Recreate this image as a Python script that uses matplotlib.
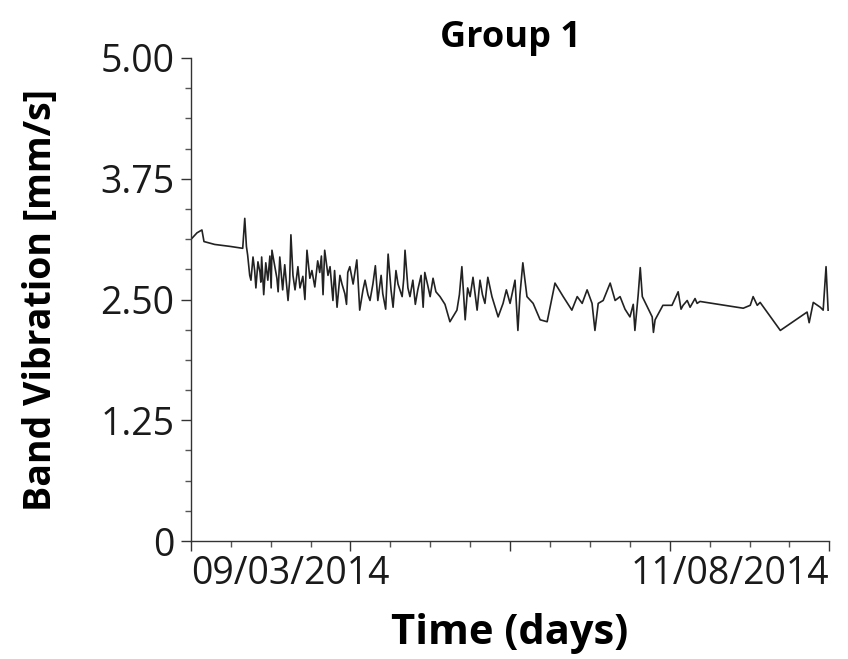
"""Band vibration trend for machine group 1."""
from datetime import date

import matplotlib
matplotlib.use("Agg")
import matplotlib.pyplot as plt
from matplotlib.ticker import AutoMinorLocator

START = date(2014, 3, 9)
END = date(2014, 8, 11)

# reading time, days after START
DAYS = [
    0.2, 1.5, 2.7, 3.2, 5.8, 9.5, 12.6, 13.1, 13.5, 13.8,
    14.3, 14.6, 15.1, 15.5, 15.8, 16.3, 16.8, 17.0, 17.2, 17.7,
    18.2, 18.7, 19.2, 19.5, 19.7, 20.4, 20.9, 21.2, 21.6, 22.3,
    22.8, 23.6, 24.0, 24.3, 24.8, 25.3, 26.0, 26.5, 27.2, 27.7,
    28.2, 28.9, 29.4, 30.1, 30.8, 31.3, 31.7, 32.1, 32.5, 33.3,
    33.8, 34.5, 34.9, 35.5, 36.2, 36.7, 37.4, 37.8, 38.1, 38.6,
    39.4, 40.3, 40.6, 41.0, 41.8, 42.3, 43.0, 43.5, 44.2, 44.8,
    45.4, 46.2, 46.6, 47.3, 47.9, 48.6, 49.1, 49.8, 50.3, 51.3,
    51.7, 52.0, 52.7, 53.2, 53.9, 54.5, 55.1, 55.9, 56.4, 56.8,
    57.5, 58.1, 58.8, 59.5, 60.5, 61.7, 62.9, 64.6, 65.2, 65.8,
    66.6, 67.2, 67.8, 68.5, 69.5, 70.2, 70.8, 71.4, 72.1, 73.1,
    74.6, 75.8, 76.6, 77.5, 78.7, 79.4, 79.9, 80.6, 81.6, 83.1,
    84.8, 86.5, 88.4, 90.4, 92.5, 93.8, 95.0, 96.2, 97.4, 98.1,
    98.9, 100.1, 101.8, 103.0, 104.2, 105.4, 106.6, 107.4, 107.8, 108.6,
    109.1, 109.6, 112.0, 112.3, 112.7, 114.6, 116.8, 118.3, 119.0, 119.5,
    120.5, 121.2, 122.4, 122.9, 123.6, 134.1, 135.8, 136.5, 137.5, 138.2,
    143.1, 149.6, 150.1, 151.1, 152.8, 153.5, 154.2, 154.7,
]

# band vibration, mm/s
VIB = [
    3.13, 3.19, 3.22, 3.10, 3.07, 3.05, 3.03, 3.34, 3.05, 2.96,
    2.75, 2.70, 2.94, 2.80, 2.62, 2.89, 2.78, 2.68, 2.94, 2.55,
    2.88, 2.70, 2.95, 2.62, 3.01, 2.84, 2.72, 2.58, 2.94, 2.60,
    2.86, 2.49, 2.70, 3.17, 2.75, 2.60, 2.84, 2.62, 2.74, 2.50,
    3.01, 2.72, 2.80, 2.63, 2.90, 2.78, 2.95, 2.55, 3.01, 2.75,
    2.84, 2.49, 2.80, 2.42, 2.75, 2.66, 2.56, 2.45, 2.78, 2.84,
    2.66, 2.91, 2.70, 2.39, 2.60, 2.70, 2.55, 2.49, 2.66, 2.85,
    2.49, 2.75, 2.56, 2.40, 2.97, 2.60, 2.42, 2.80, 2.66, 2.53,
    2.72, 3.01, 2.62, 2.53, 2.70, 2.45, 2.60, 2.75, 2.42, 2.78,
    2.65, 2.53, 2.72, 2.58, 2.53, 2.45, 2.27, 2.39, 2.55, 2.84,
    2.29, 2.62, 2.53, 2.73, 2.39, 2.70, 2.55, 2.46, 2.73, 2.53,
    2.32, 2.46, 2.60, 2.46, 2.70, 2.18, 2.55, 2.88, 2.53, 2.46,
    2.29, 2.27, 2.67, 2.53, 2.39, 2.53, 2.46, 2.60, 2.46, 2.18,
    2.46, 2.49, 2.67, 2.49, 2.53, 2.40, 2.32, 2.45, 2.18, 2.55,
    2.83, 2.53, 2.32, 2.16, 2.29, 2.44, 2.44, 2.58, 2.40, 2.44,
    2.49, 2.42, 2.51, 2.46, 2.48, 2.41, 2.44, 2.53, 2.44, 2.47,
    2.18, 2.37, 2.26, 2.47, 2.42, 2.39, 2.84, 2.39,
]

Y_TICKS = [0, 1.25, 2.50, 3.75, 5.00]
Y_LABELS = ["0", "1.25", "2.50", "3.75", "5.00"]


def main():
    plt.rcParams["font.family"] = ["Open Sans", "DejaVu Sans"]
    fig = plt.figure(figsize=(8.48, 6.59), dpi=100)
    ax = fig.add_axes([0.225, 0.179, 0.753, 0.733])

    span = (END - START).days
    ax.plot(DAYS, VIB, color="#222222", lw=1.2)

    ax.set_xlim(0, span)
    ax.set_ylim(0, 5)
    ax.set_yticks(Y_TICKS)
    ax.set_yticklabels(Y_LABELS)
    ax.yaxis.set_minor_locator(AutoMinorLocator(4))

    ax.set_xticks([span * i / 4 for i in range(5)])
    ax.set_xticklabels([START.strftime("%d/%m/%Y"), "", "", "",
                        END.strftime("%d/%m/%Y")])
    ax.xaxis.set_minor_locator(AutoMinorLocator(4))
    lbls = ax.get_xticklabels()
    lbls[0].set_ha("left")
    lbls[-1].set_ha("right")

    for s in ("top", "right"):
        ax.spines[s].set_visible(False)
    for s in ("left", "bottom"):
        ax.spines[s].set_linewidth(1.0)
        ax.spines[s].set_color("#333333")

    ax.tick_params(which="major", length=7, width=1, color="#333333",
                   labelsize=27, pad=3, labelcolor="#1a1a1a")
    ax.tick_params(axis="y", which="major", pad=5)
    ax.tick_params(which="minor", length=4, width=1, color="#555555")

    ax.set_title("Group 1", fontsize=26, fontweight="bold", pad=8)
    ax.set_xlabel("Time (days)", fontsize=30, fontweight="bold")
    ax.set_ylabel("Band Vibration [mm/s]", fontsize=27, fontweight="bold")
    ax.xaxis.set_label_coords(0.5, -0.15)
    ax.yaxis.set_label_coords(-0.205, 0.5)

    fig.savefig("out.png", dpi=100)
    plt.close(fig)


if __name__ == "__main__":
    main()
